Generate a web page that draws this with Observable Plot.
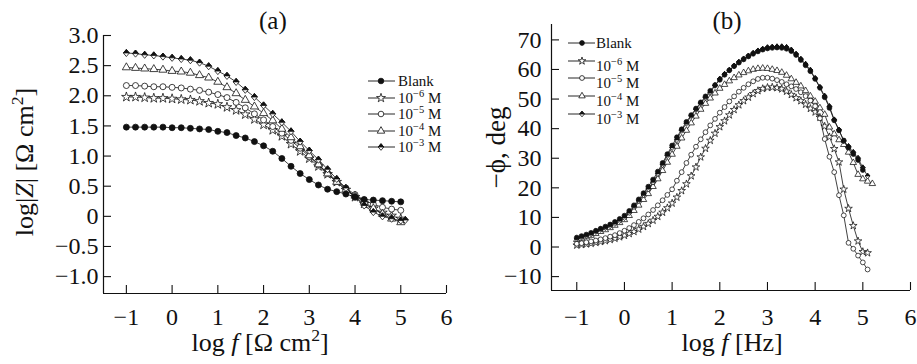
<!DOCTYPE html>
<html><head><meta charset="utf-8">
<script src="https://cdn.jsdelivr.net/npm/d3@7"></script>
<script src="https://cdn.jsdelivr.net/npm/@observablehq/plot@0.6"></script>
<style>
body{margin:0;background:#fff;}
#wrap{position:relative;width:917px;height:364px;overflow:hidden;font-family:"Liberation Serif","Times New Roman",Times,serif;color:#111;}
.panel{position:absolute;top:0;}
.lbl{position:absolute;white-space:nowrap;line-height:1;color:#111;}
.lbl sup{font-size:0.68em;vertical-align:0.55em;line-height:0;}
svg.leg{position:absolute;left:0;top:0;overflow:visible;pointer-events:none;}
</style></head><body><div id="wrap"></div>
<script>
// ---------- DATA ----------
const seriesNames = ["Blank", "1e-6", "1e-5", "1e-4", "1e-3"];
const xTicks = [-1, 0, 1, 2, 3, 4, 5, 6];
const yTicksA = [-1.0, -0.5, 0, 0.5, 1.0, 1.5, 2.0, 2.5, 3.0];
const yTicksB = [-10, 0, 10, 20, 30, 40, 50, 60, 70];

// panel (a): log f grid
const logfA = [-1.0,-0.8,-0.6,-0.4,-0.2,0.0,0.2,0.4,0.6,0.8,1.0,1.2,1.4,1.6,1.8,2.0,2.2,2.4,2.6,2.8,3.0,3.2,3.4,3.6,3.8,4.0,4.2,4.4,4.6,4.8,5.0,5.1];
const logZ_blank = [1.48,1.48,1.48,1.48,1.48,1.47,1.47,1.46,1.45,1.44,1.41,1.39,1.34,1.30,1.24,1.17,1.08,0.96,0.83,0.71,0.61,0.52,0.45,0.41,0.37,0.32,0.28,0.27,0.26,0.25,0.24,null];
const logZ_1e6 = [1.98,1.98,1.97,1.96,1.96,1.95,1.94,1.93,1.91,1.88,1.86,1.81,1.76,1.69,1.61,1.52,1.43,1.33,1.20,1.08,0.96,0.83,0.70,0.57,0.44,0.32,0.21,0.13,0.06,0.01,-0.04,null];
const logZ_1e5 = [2.17,2.17,2.16,2.15,2.15,2.14,2.13,2.11,2.09,2.06,2.02,1.97,1.89,1.80,1.70,1.60,1.49,1.38,1.26,1.13,0.99,0.86,0.72,0.59,0.47,0.36,0.27,0.20,0.15,0.12,0.10,null];
const logZ_1e4 = [2.47,2.46,2.45,2.44,2.43,2.41,2.40,2.38,2.34,2.30,2.23,2.14,2.04,1.93,1.82,1.71,1.59,1.45,1.31,1.16,1.01,0.86,0.71,0.57,0.44,0.34,0.24,0.13,0.04,-0.04,-0.10,null];
const logZ_1e3 = [2.71,2.70,2.68,2.67,2.65,2.63,2.61,2.59,2.55,2.49,2.41,2.33,2.23,2.10,1.98,1.84,1.70,1.56,1.41,1.24,1.09,0.94,0.78,0.62,0.47,0.32,0.18,0.07,0.00,-0.04,-0.07,-0.06];

// panel (b): log f grid
const logfB = [-1.0,-0.9,-0.8,-0.7,-0.6,-0.5,-0.4,-0.3,-0.2,-0.1,0.0,0.1,0.2,0.3,0.4,0.5,0.6,0.7,0.8,0.9,1.0,1.1,1.2,1.3,1.4,1.5,1.6,1.7,1.8,1.9,2.0,2.1,2.2,2.3,2.4,2.5,2.6,2.7,2.8,2.9,3.0,3.1,3.2,3.3,3.4,3.5,3.6,3.7,3.8,3.9,4.0,4.1,4.2,4.3,4.4,4.5,4.6,4.7,4.8,4.9,5.0,5.1,5.2];
const phi_blank = [3.2,3.7,4.2,4.8,5.5,6.2,6.9,7.6,8.5,9.5,10.6,12.2,14.1,16.1,18.2,20.4,22.8,25.5,28.4,31.4,34.3,37.1,39.8,42.3,44.6,46.8,48.9,50.9,52.8,54.7,56.5,58.2,59.7,61.1,62.3,63.4,64.4,65.3,66.1,66.7,67.1,67.3,67.4,67.3,67.0,66.2,64.9,63.2,61.4,59.4,56.8,53.8,50.6,47.0,42.8,39.4,36.0,33.6,31.4,29.4,26.0,null,null];
const phi_1e6 = [0.6,0.8,1.0,1.2,1.5,1.8,2.1,2.5,2.9,3.4,3.9,4.5,5.2,6.0,6.9,7.9,9.0,10.3,11.7,13.2,14.8,16.8,19.0,21.3,24.0,27.0,30.4,33.3,36.0,38.4,40.6,42.6,44.6,46.4,48.0,49.4,50.6,51.8,52.8,53.5,53.9,54.0,53.8,53.4,52.6,51.5,50.4,49.4,48.2,46.8,45.6,43.8,40.8,37.2,33.2,28.7,19.5,13.0,7.2,2.0,-1.6,-2.0,null];
const phi_1e5 = [1.1,1.3,1.6,1.9,2.2,2.6,3.0,3.5,4.0,4.7,5.5,6.4,7.4,8.5,9.7,11.0,12.5,14.1,15.8,17.6,19.5,22.4,25.3,28.4,31.2,33.9,36.4,38.8,41.1,43.3,45.4,47.3,49.2,50.9,52.5,53.8,55.0,56.0,56.8,57.2,57.2,56.9,56.4,55.8,55.0,54.3,53.4,52.3,51.0,49.5,47.6,43.5,36.5,30.5,25.3,17.5,10.7,1.4,-0.6,-2.9,-5.2,-7.6,null];
const phi_1e4 = [2.5,2.9,3.4,3.9,4.5,5.2,5.8,6.5,7.3,8.2,9.2,10.6,12.3,14.1,16.0,18.0,20.4,23.0,25.8,28.6,31.3,34.0,36.8,39.4,41.9,44.2,46.5,48.5,50.3,52.0,53.6,54.9,56.1,57.2,58.1,58.9,59.5,60.0,60.3,60.4,60.3,60.0,59.6,59.0,58.0,56.8,55.6,54.4,52.8,51.0,49.2,47.0,44.8,40.5,38.2,36.2,34.6,32.0,28.5,24.5,23.0,22.2,21.4];
const phi_1e3 = [2.8,3.3,3.8,4.4,5.2,5.9,6.5,7.1,7.9,8.9,9.9,11.6,13.6,15.6,17.6,19.6,21.9,24.8,27.8,30.9,33.6,36.2,39.4,41.8,44.3,46.5,48.6,50.5,52.3,54.6,56.8,58.4,59.8,61.2,62.5,63.6,64.6,65.5,66.3,66.9,67.4,67.6,67.7,67.7,67.5,66.6,65.2,63.5,61.8,59.8,57.0,54.0,51.0,47.5,43.0,39.6,35.8,34.0,32.0,30.0,26.8,24.0,null];

// ---------- symbols ----------
const diamondOutline = {draw(ctx, size){const r=Math.sqrt(size/Math.PI);const h=r*1.25,w=r*1.05;ctx.moveTo(0,-h);ctx.lineTo(w,0);ctx.lineTo(0,h);ctx.lineTo(-w,0);ctx.closePath();}};
const diamondTop = {draw(ctx, size){const r=Math.sqrt(size/Math.PI);const h=r*1.25,w=r*1.05;ctx.moveTo(0,-h);ctx.lineTo(w,0);ctx.lineTo(-w,0);ctx.closePath();}};
const styles = {
  "Blank": [{symbol: "circle", fill: "#111", k: 1.0}],
  "1e-6": [{symbol: "star", fill: "white", k: 1.0}],
  "1e-5": [{symbol: "circle", fill: "white", k: 1.0}],
  "1e-4": [{symbol: "triangle", fill: "white", k: 1.0}],
  "1e-3": [{symbol: diamondOutline, fill: "white", k: 0.95}, {symbol: diamondTop, fill: "#111", k: 0.95}]
};

function rows(xs, ys){ return xs.map((x,i)=>({x, y: ys[i]})).filter(d => d.y != null); }
const dataA = {"Blank": rows(logfA, logZ_blank), "1e-6": rows(logfA, logZ_1e6), "1e-5": rows(logfA, logZ_1e5), "1e-4": rows(logfA, logZ_1e4), "1e-3": rows(logfA, logZ_1e3)};
const dataB = {"Blank": rows(logfB, phi_blank), "1e-6": rows(logfB, phi_1e6), "1e-5": rows(logfB, phi_1e5), "1e-4": rows(logfB, phi_1e4), "1e-3": rows(logfB, phi_1e3)};

const minus = s => String(s).replace("-", "\u2212");
const fmtInt = d => minus(d);
const fmtA = d => d === 0 ? "0" : minus(d.toFixed(1));
const fmtB = d => minus(d);
const FONT = "'Liberation Serif', 'Times New Roman', Times, serif";

function seriesMarks(data, r, sw, order){
  const m = [];
  for (const name of order){
    m.push(Plot.line(data[name], {x: "x", y: "y", stroke: "#111", strokeWidth: 0.8}));
    for (const st of styles[name]){
      m.push(Plot.dot(data[name], {x: "x", y: "y", symbol: st.symbol, r: r*st.k, fill: st.fill, stroke: "#111", strokeWidth: sw}));
    }
  }
  return m;
}

function panel(opts){
  const {xDomain, yDomain, yTicks, yFmt, ml, mr, mt, mb, data, r, sw, order, xPad, yPad} = opts;
  return Plot.plot({
    width: 458, height: 364,
    marginLeft: ml, marginRight: mr, marginTop: mt, marginBottom: mb,
    x: {domain: xDomain}, y: {domain: yDomain},
    style: {fontFamily: FONT, fontSize: "24px", color: "#111", background: "transparent", overflow: "visible"},
    marks: [
      Plot.ruleX([xDomain[0]], {stroke: "#111", strokeWidth: 1.2}),
      Plot.ruleY([yDomain[0]], {stroke: "#111", strokeWidth: 1.2}),
      Plot.axisX(xTicks, {tickSize: 0, tickPadding: xPad, tickFormat: fmtInt, label: null, fontSize: 24, fontFamily: FONT}),
      Plot.axisX(xTicks, {tickSize: 8, dy: -8, tickFormat: () => "", label: null, strokeWidth: 1.1}),
      Plot.axisY(yTicks, {tickSize: 0, tickPadding: yPad, tickFormat: yFmt, label: null, fontSize: 24, fontFamily: FONT}),
      Plot.axisY(yTicks, {tickSize: 8, dx: 8, tickFormat: () => "", label: null, strokeWidth: 1.1}),
      ...seriesMarks(data, r, sw, order)
    ]
  });
}

const wrap = document.getElementById("wrap");
const order = ["1e-6", "1e-5", "1e-4", "1e-3", "Blank"];

const pa = panel({xDomain: [-1.5, 6], yDomain: [-1.28, 3.0], yTicks: yTicksA, yFmt: fmtA, ml: 103, mr: 12, mt: 35, mb: 71, data: dataA, r: 3.0, sw: 0.8, order, xPad: 14, yPad: 5});
const pb = panel({xDomain: [-1.53, 6], yDomain: [-14.7, 75.2], yTicks: yTicksB, yFmt: fmtB, ml: 92, mr: 7, mt: 24, mb: 74, data: dataB, r: 2.4, sw: 0.75, order, xPad: 17, yPad: 10});
const da = document.createElement("div"); da.className = "panel"; da.style.left = "0px"; da.appendChild(pa); wrap.appendChild(da);
const db = document.createElement("div"); db.className = "panel"; db.style.left = "459px"; db.appendChild(pb); wrap.appendChild(db);

// ---------- text labels ----------
function addLabel(html, cx, cy, size, rotate){
  const el = document.createElement("div");
  el.className = "lbl"; el.innerHTML = html; el.style.fontSize = size + "px";
  wrap.appendChild(el);
  const w = el.offsetWidth, h = el.offsetHeight;
  el.style.left = (cx - w/2) + "px"; el.style.top = (cy - h/2) + "px";
  if (rotate) el.style.transform = "rotate(-90deg)";
}
addLabel("(a)", 273, 20, 25);
addLabel("(b)", 727, 20, 25);
addLabel("log|<i>Z</i>| [Ω cm<sup>2</sup>]", 25, 162, 26, true);
addLabel("log <i>f</i> [Ω cm<sup>2</sup>]", 260, 343, 26);
addLabel("−ϕ, deg", 497, 147, 27, true);
addLabel("log <i>f</i> [Hz]", 732, 343, 26);

// ---------- legends ----------
const legNames = ["Blank", "1e-6", "1e-5", "1e-4", "1e-3"];
const legLabels = [["Blank", null], ["10", "−6"], ["10", "−5"], ["10", "−4"], ["10", "−3"]];
function legend(ys, x0, x1, xm, xt, fontSize, r, textDy){
  const svg = d3.select(wrap).append("svg").attr("class", "leg").attr("width", 917).attr("height", 364);
  legNames.forEach((name, i) => {
    const y = ys[i];
    svg.append("line").attr("x1", x0).attr("x2", x1).attr("y1", y).attr("y2", y).attr("stroke", "#111").attr("stroke-width", 0.9);
    for (const st of styles[name]){
      const k = r*st.k;
      const type = typeof st.symbol === "string" ? ({circle: d3.symbolCircle, star: d3.symbolStar, triangle: d3.symbolTriangle})[st.symbol] : st.symbol;
      svg.append("path").attr("d", d3.symbol(type, Math.PI*k*k)()).attr("transform", `translate(${xm},${y})`)
        .attr("fill", st.fill).attr("stroke", "#111").attr("stroke-width", 0.8);
    }
    const [main, sup] = legLabels[i];
    const t = svg.append("text").attr("x", xt).attr("y", y + textDy[i]).attr("font-size", fontSize).attr("fill", "#111")
      .attr("font-family", FONT);
    t.append("tspan").text(main);
    if (sup){
      t.append("tspan").attr("dy", -6).attr("font-size", fontSize*0.7).text(sup);
      t.append("tspan").attr("dy", 6).text(" M");
    }
  });
}
legend([81, 98, 114, 131, 147], 368, 395, 381, 398, 15, 2.8, [5, 5, 5, 5, 5]);
legend([43, 61, 78, 96, 114], 568, 595, 582, 596, 15, 2.4, [5, 10, 10, 10, 10]);
</script></body></html>
